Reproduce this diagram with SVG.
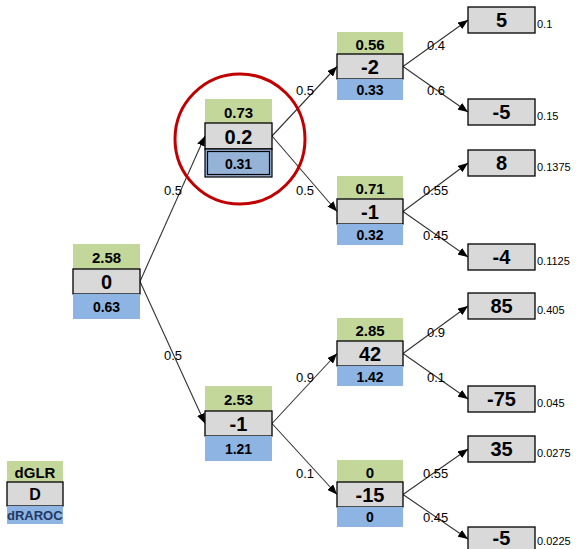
<svg xmlns="http://www.w3.org/2000/svg" width="581" height="549" viewBox="0 0 581 549">
<defs>
<marker id="arr" markerUnits="userSpaceOnUse" markerWidth="10" markerHeight="8" refX="10" refY="4" orient="auto">
<path d="M0,0 L10,4 L0,8 z" fill="#000"/>
</marker>
<style>
text{font-family:"Liberation Sans",Arial,sans-serif;dominant-baseline:central}
.g{fill:#c4d79b}
.b{fill:#8db4e2}
.y{fill:#d9d9d9;stroke:#000;stroke-width:1.3}
.tg{font-size:15px;font-weight:bold;text-anchor:middle;fill:#000}
.ty{font-size:20px;font-weight:bold;text-anchor:middle;fill:#000}
.tb{font-size:14px;font-weight:bold;text-anchor:middle;fill:#000}
.tl{font-size:20px;font-weight:bold;text-anchor:middle;fill:#000}
.p{font-size:11px;fill:#000}
.e{font-size:13px;fill:#000}
.c line{stroke:#333;stroke-width:1.1;marker-end:url(#arr)}
</style>
</defs>
<rect width="581" height="549" fill="#fff"/>
<g class="c" id="connectors">
<line x1="140" y1="281.5" x2="205" y2="136"/>
<line x1="140" y1="281.5" x2="205" y2="423.5"/>
<line x1="272" y1="136" x2="337" y2="66.5"/>
<line x1="272" y1="136" x2="337" y2="211.5"/>
<line x1="272" y1="423.5" x2="337" y2="353.5"/>
<line x1="272" y1="423.5" x2="337" y2="494.5"/>
<line x1="403" y1="66.5" x2="468" y2="20"/>
<line x1="403" y1="66.5" x2="468" y2="112"/>
<line x1="403" y1="211.5" x2="468" y2="163"/>
<line x1="403" y1="211.5" x2="468" y2="257"/>
<line x1="403" y1="353.5" x2="468" y2="306"/>
<line x1="403" y1="353.5" x2="468" y2="399"/>
<line x1="403" y1="494.5" x2="468" y2="449"/>
<line x1="403" y1="494.5" x2="468" y2="539"/>
<text class="e" x="164" y="190">0.5</text>
<text class="e" x="164" y="355">0.5</text>
<text class="e" x="296" y="90">0.5</text>
<text class="e" x="296" y="190">0.5</text>
<text class="e" x="296" y="377">0.9</text>
<text class="e" x="296" y="473">0.1</text>
<text class="e" x="427" y="45">0.4</text>
<text class="e" x="427" y="90">0.6</text>
<text class="e" x="423" y="190">0.55</text>
<text class="e" x="423" y="235">0.45</text>
<text class="e" x="427" y="332">0.9</text>
<text class="e" x="427" y="377">0.1</text>
<text class="e" x="423" y="473">0.55</text>
<text class="e" x="423" y="517">0.45</text>
</g>
<g id="root">
<rect class="g" x="73" y="244" width="67" height="25"/>
<rect class="y" x="73" y="269" width="67" height="25"/>
<rect class="b" x="73" y="294" width="67" height="25"/>
<text class="tg" x="106.5" y="257">2.58</text>
<text class="ty" x="106.5" y="282">0</text>
<text class="tb" x="106.5" y="307">0.63</text>
</g>
<g id="n-top">
<rect class="g" x="205" y="99" width="67" height="24"/>
<rect class="y" x="205" y="123" width="67" height="26"/>
<rect x="205" y="149" width="67" height="28" fill="#95b3d7" stroke="#000" stroke-width="1.2"/>
<rect x="207.5" y="151.5" width="62" height="23" fill="none" stroke="#000" stroke-width="1.2"/>
<text class="tg" x="238.5" y="112">0.73</text>
<text class="ty" x="238.5" y="137">0.2</text>
<text class="tb" x="238.5" y="164">0.31</text>
</g>
<g id="n-bot">
<rect class="g" x="205" y="386" width="67" height="25"/>
<rect class="y" x="205" y="411" width="67" height="25"/>
<rect class="b" x="205" y="436" width="67" height="25"/>
<text class="tg" x="238.5" y="399">2.53</text>
<text class="ty" x="238.5" y="424">-1</text>
<text class="tb" x="238.5" y="449">1.21</text>
</g>
<g id="n-m2">
<rect class="g" x="337" y="32" width="66" height="22"/>
<rect class="y" x="337" y="54" width="66" height="25"/>
<rect class="b" x="337" y="79" width="66" height="21"/>
<text class="tg" x="370" y="44">0.56</text>
<text class="ty" x="370" y="67">-2</text>
<text class="tb" x="370" y="90">0.33</text>
</g>
<g id="n-m1">
<rect class="g" x="337" y="176" width="66" height="23"/>
<rect class="y" x="337" y="199" width="66" height="25"/>
<rect class="b" x="337" y="224" width="66" height="21"/>
<text class="tg" x="370" y="188">0.71</text>
<text class="ty" x="370" y="212">-1</text>
<text class="tb" x="370" y="235">0.32</text>
</g>
<g id="n-42">
<rect class="g" x="337" y="318" width="66" height="23"/>
<rect class="y" x="337" y="341" width="66" height="25"/>
<rect class="b" x="337" y="366" width="66" height="20"/>
<text class="tg" x="370" y="330">2.85</text>
<text class="ty" x="370" y="354">42</text>
<text class="tb" x="370" y="377">1.42</text>
</g>
<g id="n-m15">
<rect class="g" x="337" y="460" width="66" height="22"/>
<rect class="y" x="337" y="482" width="66" height="25"/>
<rect class="b" x="337" y="507" width="66" height="20"/>
<text class="tg" x="370" y="472">0</text>
<text class="ty" x="370" y="495">-15</text>
<text class="tb" x="370" y="517">0</text>
</g>
<g id="leaf-5">
<rect class="y" x="468" y="7" width="67" height="26"/>
<text class="tl" x="501.5" y="20">5</text>
<text class="p" x="537" y="24">0.1</text>
</g>
<g id="leaf-m5a">
<rect class="y" x="468" y="99" width="67" height="26"/>
<text class="tl" x="501.5" y="112">-5</text>
<text class="p" x="537" y="116">0.15</text>
</g>
<g id="leaf-8">
<rect class="y" x="468" y="150" width="67" height="26"/>
<text class="tl" x="501.5" y="163">8</text>
<text class="p" x="537" y="167">0.1375</text>
</g>
<g id="leaf-m4">
<rect class="y" x="468" y="244" width="67" height="26"/>
<text class="tl" x="501.5" y="257">-4</text>
<text class="p" x="537" y="261">0.1125</text>
</g>
<g id="leaf-85">
<rect class="y" x="468" y="293" width="67" height="26"/>
<text class="tl" x="501.5" y="306">85</text>
<text class="p" x="537" y="310">0.405</text>
</g>
<g id="leaf-m75">
<rect class="y" x="468" y="386" width="67" height="26"/>
<text class="tl" x="501.5" y="399">-75</text>
<text class="p" x="537" y="403">0.045</text>
</g>
<g id="leaf-35">
<rect class="y" x="468" y="436" width="67" height="26"/>
<text class="tl" x="501.5" y="449">35</text>
<text class="p" x="537" y="453">0.0275</text>
</g>
<g id="leaf-m5b">
<rect class="y" x="468" y="527" width="67" height="24"/>
<text class="tl" x="501.5" y="538">-5</text>
<text class="p" x="537" y="541">0.0225</text>
</g>
<g id="highlight">
<circle cx="240" cy="139" r="65" fill="none" stroke="#c00000" stroke-width="3"/>
</g>
<g id="legend">
<rect class="g" x="7" y="461" width="56" height="21"/>
<rect class="y" x="7" y="482" width="56" height="24"/>
<rect class="b" x="7" y="506" width="56" height="18"/>
<text x="35" y="472" style="font-size:15px;font-weight:bold;text-anchor:middle">dGLR</text>
<text x="35" y="494" style="font-size:16px;font-weight:bold;text-anchor:middle">D</text>
<text x="7" y="515" style="font-size:13px;font-weight:bold;fill:#1f3864">dRAROC</text>
</g>
</svg>
